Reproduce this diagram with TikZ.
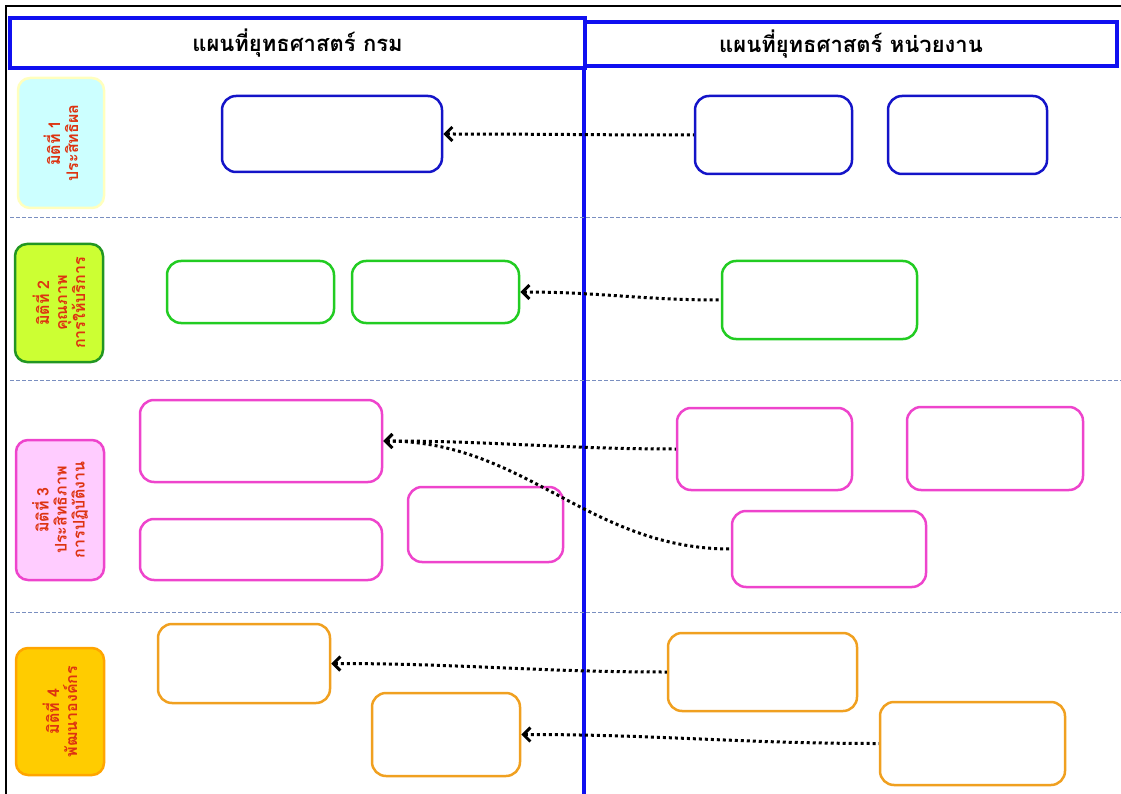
\documentclass[tikz,border=0pt]{standalone}
\usepackage{fontspec}
\newfontfamily\thaifont[Script=Thai]{Loma}
\usetikzlibrary{arrows.meta}
\definecolor{boxblue}{RGB}{20,20,200}
\definecolor{headblue}{RGB}{16,16,240}
\definecolor{boxgreen}{RGB}{34,204,34}
\definecolor{boxpink}{RGB}{238,68,204}
\definecolor{boxorange}{RGB}{240,160,32}
\definecolor{sepline}{RGB}{122,143,192}
\definecolor{dimred}{RGB}{221,51,17}
\tikzset{
  mapbox/.style={draw=#1, line width=2.5pt, rounded corners=14pt, inner sep=0pt},
  headbox/.style={draw=headblue, line width=3.5pt, inner sep=0pt, font=\thaifont\bfseries\fontsize{22}{24}\selectfont},
  dimbox/.style={rotate=90, line width=2.5pt, rounded corners=12pt, align=center, inner sep=0pt,
    text=dimred, font=\thaifont\bfseries\fontsize{16}{18}\selectfont},
  flow/.style={{Straight Barb[length=7pt,width=14pt]}-, line width=3pt, dash pattern=on 3pt off 3pt},
  sep/.style={draw=sepline, line width=0.8pt, dash pattern=on 4pt off 2pt}
}
\begin{document}
\begin{tikzpicture}[x=1pt,y=-1pt]
      \useasboundingbox (0,0) rectangle (1121,794);
      \draw[line width=1.5pt] (6,794) -- (6,6) -- (1121,6);
      % headers
      \node[headbox, minimum width=575, minimum height=50] (hl) at (297.5,43) {แผนที่ยุทธศาสตร์ กรม};
      \node[headbox, minimum width=532, minimum height=44] (hr) at (851,44) {แผนที่ยุทธศาสตร์ หน่วยงาน};
      \draw[headblue, line width=3.5pt] (584,66) -- (584,794);
      % separators
      \draw[sep] (10,217) -- (1121,217);
      \draw[sep] (10,380) -- (1121,380);
      \draw[sep] (10,612) -- (1121,612);
      % dimensions
      \node[dimbox, draw={rgb,255:red,255;green,255;blue,190}, fill={rgb,255:red,204;green,255;blue,255},
        minimum width=130, minimum height=86] (d1) at (61,143) {มิติที่ 1\\ประสิทธิผล};
      \node[dimbox, draw={rgb,255:red,34;green,150;blue,34}, fill={rgb,255:red,204;green,255;blue,51},
        minimum width=118, minimum height=88] (d2) at (59,303) {มิติที่ 2\\คุณภาพ\\การให้บริการ};
      \node[dimbox, draw=boxpink, fill={rgb,255:red,255;green,204;blue,255},
        minimum width=140, minimum height=88] (d3) at (60,510) {มิติที่ 3\\ประสิทธิภาพ\\การปฏิบัติงาน};
      \node[dimbox, draw={rgb,255:red,255;green,165;blue,0}, fill={rgb,255:red,255;green,204;blue,0},
        minimum width=127, minimum height=88] (d4) at (60,711.5) {มิติที่ 4\\พัฒนาองค์กร};
      % row 1
      \node[mapbox=boxblue, minimum width=220, minimum height=76] (g1) at (332,134) {};
      \node[mapbox=boxblue, minimum width=157, minimum height=78] (u1a) at (773.5,135) {};
      \node[mapbox=boxblue, minimum width=159, minimum height=78] (u1b) at (967.5,135) {};
      % row 2
      \node[mapbox=boxgreen, minimum width=167, minimum height=62] (g2a) at (250.5,292) {};
      \node[mapbox=boxgreen, minimum width=167, minimum height=62] (g2b) at (435.5,292) {};
      \node[mapbox=boxgreen, minimum width=195, minimum height=78] (u2) at (819.5,300) {};
      % row 3
      \node[mapbox=boxpink, minimum width=242, minimum height=82] (g3a) at (261,441) {};
      \node[mapbox=boxpink, minimum width=242, minimum height=61] (g3b) at (261,549.5) {};
      \node[mapbox=boxpink, minimum width=155, minimum height=75] (g3c) at (485.5,524.5) {};
      \node[mapbox=boxpink, minimum width=175, minimum height=82] (u3a) at (764.5,449) {};
      \node[mapbox=boxpink, minimum width=176, minimum height=83] (u3b) at (995,448.5) {};
      \node[mapbox=boxpink, minimum width=194, minimum height=76] (u3c) at (829,549) {};
      % row 4
      \node[mapbox=boxorange, minimum width=172, minimum height=79] (g4a) at (244,663.5) {};
      \node[mapbox=boxorange, minimum width=148, minimum height=83] (g4b) at (446,734.5) {};
      \node[mapbox=boxorange, minimum width=189, minimum height=78] (u4a) at (762.5,672) {};
      \node[mapbox=boxorange, minimum width=185, minimum height=83] (u4b) at (972.5,743.5) {};
      % links
      \draw[flow] (g1.east) to[out=0,in=180] (u1a.west);
      \draw[flow] (g2b.east) to[out=0,in=180] (u2.west);
      \draw[flow] (g3a.east) to[out=0,in=180] (u3a.west);
      \draw[flow] (g3a.east) to[out=0,in=180] (u3c.west);
      \draw[flow] (g4a.east) to[out=0,in=180] (u4a.west);
      \draw[flow] (g4b.east) to[out=0,in=180] (u4b.west);
    \end{tikzpicture}
\end{document}
